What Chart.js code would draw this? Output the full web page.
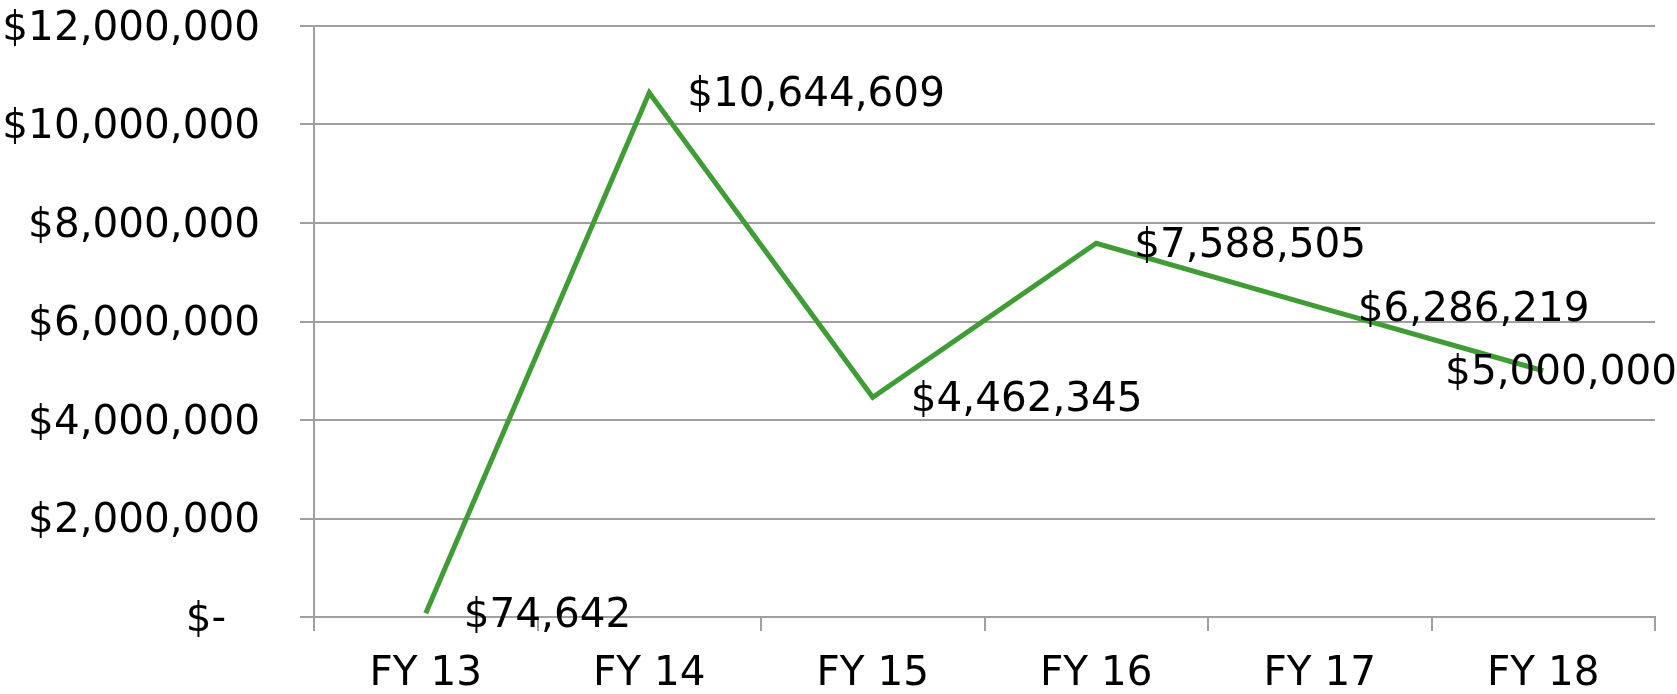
<!DOCTYPE html>
<html>
<head>
<meta charset="utf-8">
<script src="https://cdn.jsdelivr.net/npm/chart.js@4/dist/chart.umd.min.js"></script>
<style>
html,body{margin:0;padding:0;background:#fff;}
#wrap{width:1677px;height:694px;position:relative;}
</style>
</head>
<body>
<div id="wrap"><canvas id="c" width="1677" height="694"></canvas></div>
<script>
const categories = ["FY 13", "FY 14", "FY 15", "FY 16", "FY 17", "FY 18"];
const values = [74642, 10644609, 4462345, 7588505, 6286219, 5000000];
const yTicks = [0, 2000000, 4000000, 6000000, 8000000, 10000000, 12000000];

const FONT = "'DejaVu Sans', sans-serif";
const FSIZE = 40.5;
function money(v) {
  if (v === 0) return "$-\u2007\u2009";
  return "$" + v.toLocaleString("en-US");
}

const labelPlugin = {
  id: "pointLabels",
  afterDatasetsDraw(chart) {
    const ctx = chart.ctx;
    const meta = chart.getDatasetMeta(0);
    ctx.save();
    ctx.font = FSIZE + "px " + FONT;
    ctx.fillStyle = "#000";
    ctx.textBaseline = "middle";
    ctx.textAlign = "left";
    meta.data.forEach((pt, i) => {
      const txt = money(values[i]);
      const w = ctx.measureText(txt).width;
      let x = pt.x + 38;
      if (x + w > chart.width) x = chart.width - w;
      ctx.fillText(txt, x, pt.y + 3);
    });
    ctx.restore();
  }
};

new Chart(document.getElementById("c"), {
  type: "line",
  data: {
    labels: categories,
    datasets: [{
      data: values,
      borderColor: "#409c35",
      borderWidth: 5,
      pointRadius: 0,
      tension: 0,
      fill: false
    }]
  },
  options: {
    responsive: false,
    animation: false,
    layout: { padding: { top: 26, right: 22, left: 0, bottom: 0 } },
    plugins: { legend: { display: false }, tooltip: { enabled: false } },
    scales: {
      x: {
        offset: true,
        grid: { display: true, drawOnChartArea: false, drawTicks: true, tickLength: 14, color: "#a0a0a0", lineWidth: 2, offset: true },
        border: { display: true, color: "#a0a0a0", width: 2 },
        ticks: { color: "#000", font: { family: FONT, size: FSIZE }, padding: 19 },
        afterFit(s) { s.height = 77; s.paddingLeft = 0; s.paddingRight = 0; }
      },
      y: {
        min: 0, max: 12000000,
        afterBuildTicks(s) { s.ticks = yTicks.map(v => ({ value: v })); },
        grid: { color: "#a0a0a0", lineWidth: 2, tickLength: 14, drawTicks: true },
        border: { display: true, color: "#a0a0a0", width: 2 },
        ticks: { color: "#000", font: { family: FONT, size: FSIZE }, padding: 40, labelOffset: 3, callback: (v) => money(v) },
        afterFit(s) { s.width = 314; s.paddingTop = 0; s.paddingBottom = 0; }
      }
    }
  },
  plugins: [labelPlugin]
});
</script>
</body>
</html>
